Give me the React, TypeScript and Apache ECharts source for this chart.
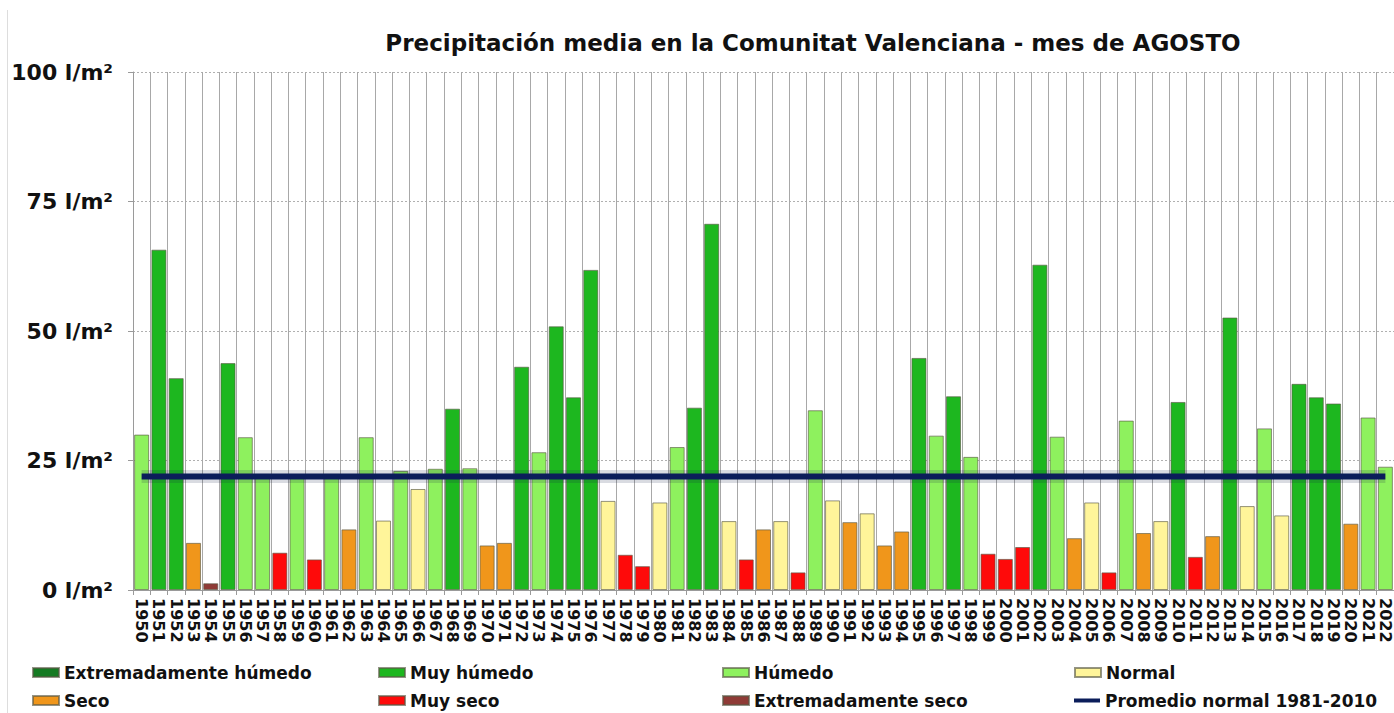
import React, { useEffect, useRef } from "react";
import * as echarts from "echarts";

const TITLE = "Precipitación media en la Comunitat Valenciana - mes de AGOSTO";

const years: string[] = [
  "1950","1951","1952","1953","1954","1955","1956","1957","1958","1959",
  "1960","1961","1962","1963","1964","1965","1966","1967","1968","1969",
  "1970","1971","1972","1973","1974","1975","1976","1977","1978","1979",
  "1980","1981","1982","1983","1984","1985","1986","1987","1988","1989",
  "1990","1991","1992","1993","1994","1995","1996","1997","1998","1999",
  "2000","2001","2002","2003","2004","2005","2006","2007","2008","2009",
  "2010","2011","2012","2013","2014","2015","2016","2017","2018","2019",
  "2020","2021","2022",
];

// precipitation (l/m²)
const precip: number[] = [
  30.0, 65.7, 40.9, 9.1, 1.3, 43.8, 29.5, 22.4, 7.2, 22.2,
  5.9, 22.4, 11.7, 29.5, 13.4, 23.0, 19.5, 23.4, 35.0, 23.5,
  8.6, 9.1, 43.1, 26.6, 50.9, 37.2, 61.8, 17.2, 6.8, 4.6,
  16.9, 27.6, 35.2, 70.7, 13.3, 5.9, 11.7, 13.3, 3.4, 34.7,
  17.3, 13.1, 14.8, 8.6, 11.3, 44.8, 29.8, 37.4, 25.7, 7.0,
  6.0, 8.3, 62.8, 29.6, 10.0, 16.9, 3.4, 32.7, 11.0, 13.3,
  36.3, 6.4, 10.4, 52.6, 16.2, 31.2, 14.4, 39.8, 37.2, 36.0,
  12.8, 33.3, 23.8,
];

// class of each year
const yearClass: string[] = [
  "H","MH","MH","S","ES","MH","H","H","MS","H",
  "MS","H","S","H","N","H","N","H","MH","H",
  "S","S","MH","H","MH","MH","MH","N","MS","MS",
  "N","H","MH","MH","N","MS","S","N","MS","H",
  "N","S","N","S","S","MH","H","MH","H","MS",
  "MS","MS","MH","H","S","N","MS","H","S","N",
  "MH","MS","S","MH","N","H","N","MH","MH","MH",
  "S","H","H",
];

const classCodes: string[] = ["EH", "MH", "H", "N", "S", "MS", "ES"];
const classNames: string[] = [
  "Extremadamente húmedo",
  "Muy húmedo",
  "Húmedo",
  "Normal",
  "Seco",
  "Muy seco",
  "Extremadamente seco",
];
const classColors: string[] = [
  "#157a22",
  "#1db71f",
  "#8ef15e",
  "#fff59a",
  "#f0961b",
  "#fe0a0a",
  "#8f3b36",
];

const NORMAL_NAME = "Promedio normal 1981-2010";
const NORMAL_AVG = 21.9;

const yTicks: number[] = [0, 25, 50, 75, 100];

const FONT = "DejaVu Sans";
const LINE_COLOR = "#0b1d5a";

export default function App() {
  const ref = useRef<HTMLDivElement>(null);

  useEffect(() => {
    if (!ref.current) return;
    const chart = echarts.init(ref.current, undefined, { renderer: "svg" });

    const barSeries = classCodes.map((code, ci) => ({
      name: classNames[ci],
      type: "bar",
      stack: "p",
      barCategoryGap: "13%",
      data: precip.map((v, i) => (yearClass[i] === code ? v : "-")),
      itemStyle: {
        color: classColors[ci],
        borderColor: "rgba(90,90,70,0.65)",
        borderWidth: 1,
      },
      z: 2,
    }));

    const normalData = years.map(() => NORMAL_AVG);

    const haloSeries = {
      name: "halo",
      type: "line",
      data: normalData,
      symbol: "none",
      silent: true,
      lineStyle: { color: "rgba(20,30,70,0.16)", width: 13 },
      z: 4,
    };

    const lineSeries = {
      name: NORMAL_NAME,
      type: "line",
      data: normalData,
      symbol: "none",
      lineStyle: { color: LINE_COLOR, width: 6 },
      itemStyle: { color: LINE_COLOR },
      z: 5,
    };

    const legendCols = [32, 378, 722, 1074];
    const legendRows = [664, 692];
    const legendOrder = [...classNames, NORMAL_NAME];
    const legends = legendOrder.map((name, k) => {
      const col = k % 4;
      const row = Math.floor(k / 4);
      const isLine = name === NORMAL_NAME;
      return {
        show: true,
        left: legendCols[col],
        top: legendRows[row],
        padding: 0,
        orient: "horizontal",
        data: [
          isLine
            ? { name, icon: "rect", itemStyle: { color: LINE_COLOR, borderWidth: 0 } }
            : { name, icon: "rect" },
        ],
        itemWidth: 26,
        itemHeight: isLine ? 4 : 9,
        selectedMode: false,
        textStyle: {
          fontFamily: FONT,
          fontWeight: "bold",
          fontSize: 17,
          color: "#111",
        },
      };
    });

    chart.setOption({
      animation: false,
      backgroundColor: "#ffffff",
      title: {
        text: TITLE,
        left: 808,
        top: 26,
        textAlign: "center",
        textStyle: {
          fontFamily: FONT,
          fontWeight: "bold",
          fontSize: 23,
          color: "#111",
        },
      },
      legend: legends,
      grid: {
        left: 133,
        top: 72,
        width: 1268,
        bottom: 123,
        containLabel: false,
      },
      xAxis: {
        type: "category",
        data: years,
        boundaryGap: true,
        axisLine: { show: true, lineStyle: { color: "#9a9a9a", width: 1 } },
        axisTick: { show: true, interval: 0, length: 5, lineStyle: { color: "#9a9a9a" } },
        splitLine: { show: true, interval: 0, lineStyle: { color: "#a8a8a8", width: 1 } },
        axisLabel: {
          interval: 0,
          rotate: -90,
          margin: 8,
          fontFamily: FONT,
          fontWeight: "bold",
          fontSize: 16,
          color: "#111",
        },
      },
      yAxis: {
        type: "value",
        min: yTicks[0],
        max: yTicks[yTicks.length - 1],
        interval: 25,
        axisLine: { show: true, lineStyle: { color: "#9a9a9a" } },
        axisTick: { show: true, length: 5, lineStyle: { color: "#9a9a9a" } },
        splitLine: { show: true, lineStyle: { color: "#b0b0b0", type: [2, 2], width: 1 } },
        axisLabel: {
          margin: 20,
          fontFamily: FONT,
          fontWeight: "bold",
          fontSize: 22,
          color: "#111",
          formatter: (v: number) => `${v} l/m²`,
        },
      },
      graphic: [
        {
          type: "line",
          shape: { x1: 7.5, y1: 10, x2: 7.5, y2: 713 },
          style: { stroke: "#dddddd", lineWidth: 1 },
          silent: true,
        },
      ],
      series: [...barSeries, haloSeries, lineSeries],
    });

    return () => chart.dispose();
  }, []);

  return (
    <div
      ref={ref}
      style={{ position: "absolute", left: 0, top: 0, width: 1394, height: 713 }}
    />
  );
}
